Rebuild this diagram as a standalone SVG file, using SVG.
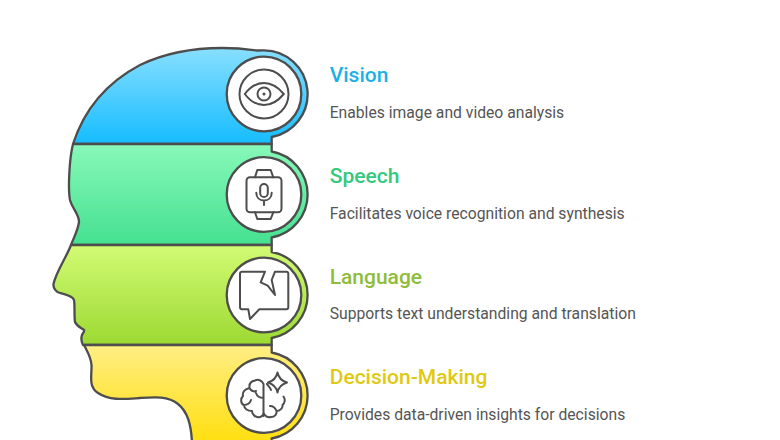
<svg xmlns="http://www.w3.org/2000/svg" width="780" height="440" viewBox="0 0 780 440">
<style>
.o{stroke:#4d4d4d;stroke-width:2.3;stroke-linejoin:round;stroke-linecap:round}
.c{fill:#fff;stroke:#4d4d4d;stroke-width:2.3}
.i{fill:none;stroke:#4d4d4d;stroke-width:2;stroke-linejoin:round;stroke-linecap:round}
.t{font-family:Roboto,"Liberation Sans",sans-serif;font-size:21px;font-weight:500}
.d{font-family:Roboto,"Liberation Sans",sans-serif;font-size:15.700px;fill:#555}
</style>
<defs>
<linearGradient id="gb" x1="0" y1="0" x2="0" y2="1"><stop offset="0" stop-color="#88dfff"/><stop offset="1" stop-color="#16bcff"/></linearGradient>
<linearGradient id="gg" x1="0" y1="0" x2="0" y2="1"><stop offset="0" stop-color="#88f9b9"/><stop offset="1" stop-color="#45e090"/></linearGradient>
<linearGradient id="gl" x1="0" y1="0" x2="0" y2="1"><stop offset="0" stop-color="#d2fb74"/><stop offset="1" stop-color="#9cd932"/></linearGradient>
<linearGradient id="gy" x1="0" y1="0" x2="0" y2="1"><stop offset="0" stop-color="#ffee85"/><stop offset="1" stop-color="#ffdf10"/></linearGradient>
</defs>
<g id="connectors"></g>
<g id="vision">
<path class="o" fill="url(#gb)" d="M73 144C84 110 106 83 140 65C165 53 195 48 222 48C234 48 246 49 257 50.500C260 50.300 262 50.300 264 50.300A43.700 43.700 0 0 1 271.700 137V144Z"/>
<circle class="c" cx="264" cy="94" r="37.300"/>
<circle class="i" cx="264" cy="94" r="24.500"/>
<path class="i" d="M244.800 94C250 87 257 83 264 83C271 83 278 87 283.800 94C278 101 271 105 264 105C257 105 250 101 244.800 94Z"/>
<circle class="i" cx="264" cy="94" r="6.500"/>
<circle cx="264" cy="94" r="1.500" fill="#4d4d4d"/>
<text class="t" x="329.700" y="82" fill="#1cb1e6">Vision</text>
<text class="d" x="329.700" y="118">Enables image and video analysis</text>
</g>
<g id="speech">
<path class="o" fill="url(#gg)" d="M73 144H271.700V151.500A43.700 43.700 0 0 1 271.700 237.500V245H71C74 237 78 230 79 222C79.500 215 72 208 70 200C68 190 69 160 73 144Z"/>
<circle class="c" cx="264" cy="194.500" r="37.300"/>
<rect class="i" x="246.500" y="177.300" width="35" height="35" rx="3.500"/>
<path class="i" d="M255 177.300L257.300 170H270.700L273.300 177.300M255 212.300L257.300 219H270.700L273.300 212.300"/>
<rect class="i" x="260.200" y="184" width="7.600" height="13" rx="3.800"/>
<path class="i" d="M256.300 192.700C256.300 197.500 259.500 200.500 264 200.500C268.500 200.500 271.700 197.500 271.700 192.700M264 200.500V205"/>
<text class="t" x="329.700" y="183" fill="#34c97e">Speech</text>
<text class="d" x="329.700" y="219">Facilitates voice recognition and synthesis</text>
</g>
<g id="language">
<path class="o" fill="url(#gl)" d="M71 245H271.700V252A43.700 43.700 0 0 1 271.700 338V345H83C81 341 81 338 82 335C83 333 85 331 84 330C82 328 77 327 75 322C74 315 75 305 74 300C73 296 64 294 60 293C56 292 53 288 53.500 284C56 272 67 256 71 245Z"/>
<circle class="c" cx="264" cy="295" r="37.300"/>
<path class="i" d="M275 271.700H286.300A2 2 0 0 1 288.300 273.700V307.300A2 2 0 0 1 286.300 309.300H259.300L250 319L248.300 309.300H242A2 2 0 0 1 240 307.300V273.700A2 2 0 0 1 242 271.700H265L260.700 282.300L267.700 285.700L275 295L271.700 280Z"/>
<text class="t" x="329.700" y="284" fill="#8fbd3a">Language</text>
<text class="d" x="329.700" y="319">Supports text understanding and translation</text>
</g>
<g id="decision-making">
<path class="o" fill="url(#gy)" d="M84 345H271.700V352.500A43.700 43.700 0 0 1 271.700 438.500V442H192C191 425 188 412 178 404C168 396 155 397 140 398C125 399 110 401 98 393C88 387 92 375 91.500 365C91 357 87 351 84 345Z"/>
<circle class="c" cx="264" cy="395.500" r="37.300"/>
<path class="i" d="M263.500 384V416M263.500 384C262 380 258 379 255 380.500C251 381 249 384 249.500 388C245 389 242 392 243 396C240 399 241 404 244 405C244 409 248 411 252 411C252 415 256 418 260 417C262 416.500 263.500 415 263.500 412M263.500 412C264 416 268 418 271 417C275 417 277 414 276.500 411C280 411 283 408 282.500 405C285 403 285.500 399 283.500 396.500M267 384C268 386 270 387 271 390M249.500 388C251 391 254 392 256 391M244 405C247 405 250 403 251 400M263.500 398C260 398 257 396 256 393M276.500 411C275 407 272 406 270 406"/>
<path class="i" d="M277.500 372.500C278.500 377.500 282 381 287 382.500C282 384 278.500 387.500 277.500 392.500C276.500 387.500 273 384 268 382.500C273 381 276.500 377.500 277.500 372.500Z"/>
<text class="t" x="329.700" y="384" fill="#e0c910">Decision-Making</text>
<text class="d" x="329.700" y="420">Provides data-driven insights for decisions</text>
</g>
</svg>
